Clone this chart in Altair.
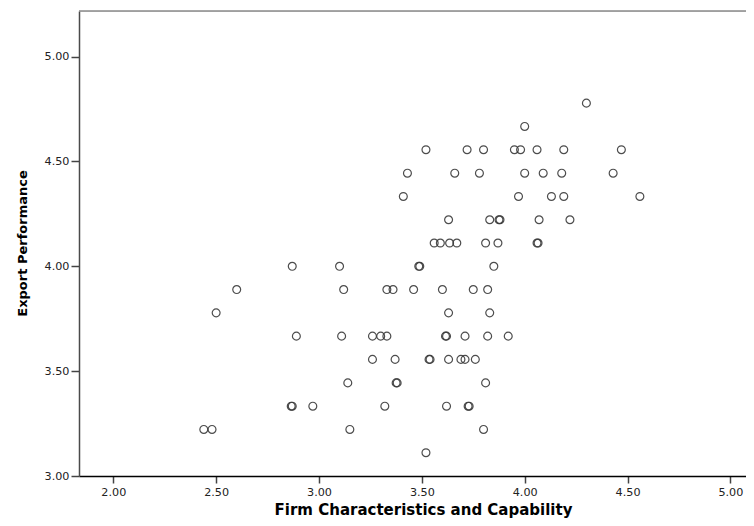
import altair as alt
import pandas as pd

# Export Performance levels (rows of points) and the Firm Characteristics values on each row
y_levels = [4.778, 4.667, 4.556, 4.444, 4.333, 4.222, 4.111, 4.000,
            3.889, 3.778, 3.667, 3.556, 3.444, 3.333, 3.222, 3.111]
x_rows = [
    [4.30],
    [4.00],
    [3.52, 3.72, 3.80, 3.95, 3.98, 4.06, 4.19, 4.47],
    [3.43, 3.66, 3.78, 4.00, 4.09, 4.18, 4.43],
    [3.41, 3.97, 4.13, 4.19, 4.56],
    [3.63, 3.83, 3.875, 3.88, 4.07, 4.22],
    [3.56, 3.59, 3.635, 3.67, 3.81, 3.87, 4.06, 4.065],
    [2.87, 3.10, 3.485, 3.49, 3.85],
    [2.60, 3.12, 3.33, 3.36, 3.46, 3.60, 3.75, 3.82],
    [2.50, 3.63, 3.83],
    [2.89, 3.11, 3.26, 3.30, 3.33, 3.615, 3.62, 3.71, 3.82, 3.92],
    [3.26, 3.37, 3.535, 3.54, 3.63, 3.69, 3.71, 3.76],
    [3.14, 3.375, 3.38, 3.81],
    [2.865, 2.87, 2.97, 3.32, 3.62, 3.725, 3.73],
    [2.44, 2.48, 3.15, 3.80],
    [3.52],
]
x_ticks = [2.0, 2.5, 3.0, 3.5, 4.0, 4.5, 5.0]
y_ticks = [3.0, 3.5, 4.0, 4.5, 5.0]

records = []
for yv, xs in zip(y_levels, x_rows):
    for xv in xs:
        records.append({"firm": xv, "export": yv})
df = pd.DataFrame(records)

PLOT_W = 667
PLOT_H = 465

points = (
    alt.Chart(df)
    .mark_point(shape="circle", filled=False, size=62, strokeWidth=1.2, color="#3a3a3a", opacity=0.9)
    .encode(
        x=alt.X(
            "firm:Q",
            scale=alt.Scale(domain=[1.8333, 5.0759], nice=False, zero=False),
            axis=alt.Axis(
                title="Firm Characteristics and Capability",
                values=x_ticks,
                format=".2f",
                grid=False,
                tickSize=7,
                tickWidth=1.5,
                tickColor="#444444",
                domainColor="#000000",
                domainWidth=1.5,
                labelFont="DejaVu Sans",
                labelFontSize=11.2,
                labelColor="#222222",
                labelPadding=3,
                labelFlush=False,
                titleFont="DejaVu Sans",
                titleFontSize=15,
                titleFontWeight="bold",
                titleColor="#000000",
                titleX=344,
                titleY=38,
                titleBaseline="alphabetic",
            ),
        ),
        y=alt.Y(
            "export:Q",
            scale=alt.Scale(domain=[3.0, 5.2175], nice=False, zero=False),
            axis=alt.Axis(
                title="Export Performance",
                values=y_ticks,
                format=".2f",
                grid=False,
                tickSize=8,
                tickWidth=1.5,
                tickColor="#444444",
                domainColor="#4a4a4a",
                domainWidth=1.5,
                labelFont="DejaVu Sans",
                labelFontSize=11.2,
                labelColor="#222222",
                labelPadding=2,
                labelFlush=False,
                titleFont="DejaVu Sans",
                titleFontSize=13,
                titleFontWeight="bold",
                titleColor="#000000",
                titleAngle=270,
                titleX=-57,
                titleY=232,
                titleBaseline="middle",
            ),
        ),
    )
)

# top frame line of the plot area (the right side runs off the picture)
top_border = (
    alt.Chart(pd.DataFrame({"edge": ["top"]}))
    .mark_rule(color="#8a8a8a", strokeWidth=1.5)
    .encode(y=alt.value(0), x=alt.value(0), x2=alt.value(PLOT_W))
)

chart = (
    alt.layer(points, top_border)
    .properties(
        width=PLOT_W,
        height=PLOT_H,
        padding={"left": 71, "top": 3, "right": 0, "bottom": 42},
        autosize=alt.AutoSizeParams(type="none"),
    )
    .configure_view(fill="#efefef", strokeWidth=0)
    .configure(background="#ffffff")
)

chart.save("out.html", embed_options={"renderer": "svg", "actions": False})
